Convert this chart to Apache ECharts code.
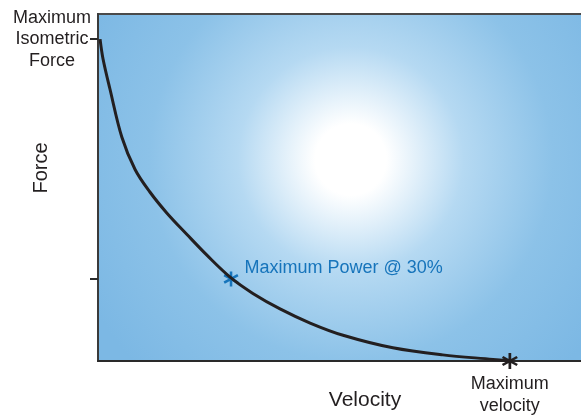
<!DOCTYPE html>
<html>
<head>
<meta charset="utf-8">
<script src="https://cdn.jsdelivr.net/npm/echarts@6/dist/echarts.min.js"></script>
<style>
html,body{margin:0;padding:0;background:#ffffff;}
#chart{width:581px;height:416px;}
</style>
</head>
<body>
<div id="chart"></div>
<script>
// Force–velocity curve, in % of maximum
const velocity = [0.5, 1.2, 2.9, 5.8, 9.0, 12.6, 16.7, 21.6, 26.5, 32.3, 37.6, 44.2, 51.5, 59.5, 71.6, 83.7, 95.9, 100];
const force    = [100, 94, 84.5, 69.5, 59.5, 52.5, 46.0, 39.3, 32.8, 25.8, 21.0, 16.2, 11.8, 8.0, 4.1, 1.9, 0.5, 0];
const peakPower = [32.3, 25.5];
const maxVelocity = [100, 0];
const forceTicks = [25.5, 100];
const forceTickLabels = ['Maximum\nIsometric\nForce'];
const peakLabel = 'Maximum Power @ 30%';
const maxVelocityLabel = 'Maximum\nvelocity';

const FONT = 'Liberation Sans, Arial, Helvetica, sans-serif';
const TEXT = '#231f20';
const BLUE = '#1674bb';
const STAR = 'path://M8.4 0 L11.6 0 L11.6 20 L8.4 20 Z M0.54 6.39 L2.14 3.61 L19.46 13.61 L17.86 16.39 Z M2.14 16.39 L0.54 13.61 L17.86 3.61 L19.46 6.39 Z';

const chart = echarts.init(document.getElementById('chart'), null, {renderer: 'canvas'});
chart.setOption({
  animation: false,
  backgroundColor: '#ffffff',
  grid: {
    left: 98, top: 14, right: -3, bottom: 55,
    containLabel: false,
    outerBoundsMode: 'none',
    show: true,
    borderColor: '#4a4a4a',
    borderWidth: 2,
    backgroundColor: {
      type: 'radial', x: 0.52, y: 0.42, r: 0.85,
      colorStops: [
        {offset: 0, color: '#ffffff'},
        {offset: 0.12, color: '#ffffff'},
        {offset: 0.38, color: '#b5d9f2'},
        {offset: 0.68, color: '#8cc2e8'},
        {offset: 1, color: '#7cb8e4'}
      ]
    }
  },
  xAxis: {
    type: 'value', min: 0, max: 118,
    name: 'Velocity', nameLocation: 'middle', nameGap: 29, nameMoveOverlap: false,
    nameTextStyle: {fontFamily: FONT, fontSize: 21, color: TEXT, padding: [0, 0, 0, 48]},
    axisLine: {show: true, lineStyle: {color: '#2a2a2a', width: 2}},
    axisTick: {show: false},
    axisLabel: {show: false},
    splitLine: {show: false}
  },
  yAxis: {
    type: 'value', min: 0, max: 107.8,
    name: 'Force', nameLocation: 'middle', nameGap: 47, nameMoveOverlap: false,
    nameTextStyle: {fontFamily: FONT, fontSize: 20, color: TEXT, padding: [0, 0, 0, 39]},
    axisLine: {show: true, lineStyle: {color: '#3a3a3a', width: 2}},
    axisTick: {show: true, length: 8, customValues: forceTicks, lineStyle: {color: '#2a2a2a', width: 2}},
    axisLabel: {
      show: true, customValues: [forceTicks[1]],
      formatter: () => forceTickLabels[0],
      fontFamily: FONT, fontSize: 18, color: TEXT, lineHeight: 21.5,
      align: 'center', margin: 46
    },
    splitLine: {show: false}
  },
  series: [
    {
      type: 'line',
      data: velocity.map((v, i) => [v, force[i]]),
      smooth: 0.35,
      showSymbol: false,
      clip: false,
      lineStyle: {color: TEXT, width: 3}
    },
    {
      type: 'scatter',
      clip: false,
      data: [peakPower],
      symbol: STAR, symbolSize: 15,
      itemStyle: {color: BLUE, opacity: 1},
      label: {
        show: true, position: 'right', distance: 6, offset: [0, -11],
        formatter: peakLabel,
        fontFamily: FONT, fontSize: 18, color: BLUE
      }
    },
    {
      type: 'scatter',
      clip: false,
      data: [maxVelocity],
      symbol: STAR, symbolSize: 16,
      itemStyle: {color: TEXT, opacity: 1},
      label: {
        show: true, position: 'bottom', distance: 4,
        formatter: maxVelocityLabel, align: 'center',
        fontFamily: FONT, fontSize: 18, color: TEXT, lineHeight: 22
      }
    }
  ]
});
</script>
</body>
</html>
